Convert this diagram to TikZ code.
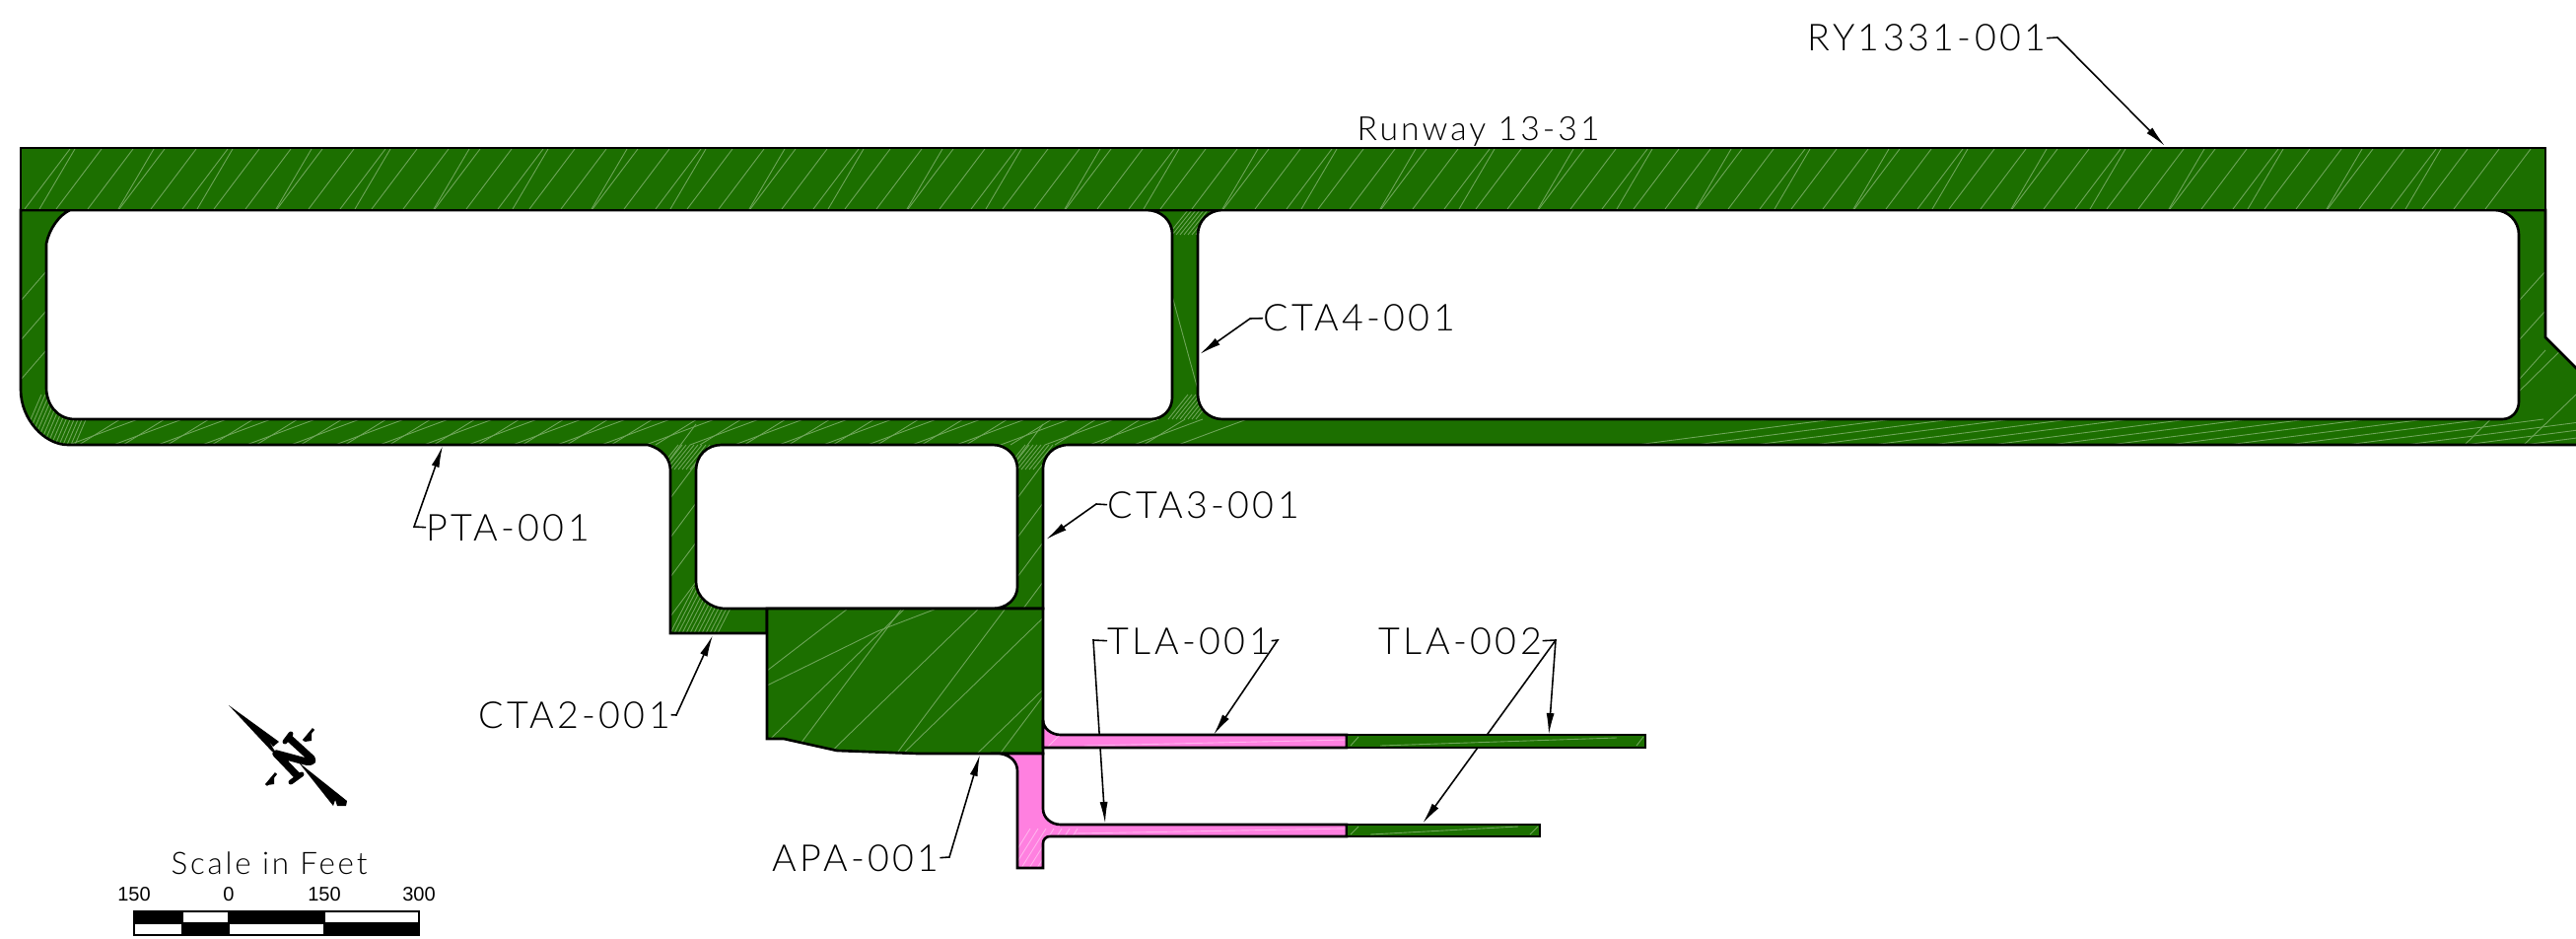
\documentclass[tikz,border=0pt]{standalone}
\usepackage{fontspec}
\setmainfont[LetterSpace=9]{Lato Light}
\newfontfamily\barfont{Liberation Sans}
\usetikzlibrary{arrows.meta}
\definecolor{pavegreen}{HTML}{1C6F00}
\definecolor{pavepink}{HTML}{FF80E0}
\definecolor{hatchgreen}{HTML}{6FA65A}
\definecolor{hatchpink}{HTML}{FFB4EE}

\begin{document}
\begin{tikzpicture}[x=0.01cm, y=-0.01cm,
    tag/.style={anchor=base west, inner sep=0pt, font=\fontsize{10.7}{12}\selectfont},
    leader/.style={line width=0.45pt, black},
    leaderarrow/.style={leader, -{Latex[length=0.22cm,width=0.08cm]}},
    pave/.style={draw=black, line width=0.75pt, line join=miter},
    hatch/.style={draw=hatchgreen, line width=0.25pt},
    barnum/.style={anchor=base, inner sep=0pt, font=\barfont\fontsize{5.7}{7}\selectfont}]
  \useasboundingbox (0,0) rectangle (2613,952);
  \clip (0,0) rectangle (2613,952);

  % labels
  \node [tag] (ry) at (1833,52) {RY1331-001};
  \node [tag, font=\fontsize{9.6}{12}\selectfont] (runway) at (1376,143) {Runway 13-31};
  \node [tag] (cta4) at (1281,336) {CTA4-001};
  \node [tag] (cta3) at (1123,525) {CTA3-001};
  \node [tag] (pta) at (432,548) {PTA-001};
  \node [tag] (cta2) at (485,738) {CTA2-001};
  \node [tag] (apa) at (783,883) {APA-001};
  \node [tag] (tla1) at (1123,663) {TLA-001};
  \node [tag] (tla2) at (1398,663) {TLA-002};

  % arrow ends, on the pavement edges
  \coordinate (ryend) at (2196,148);
  \coordinate (cta4end) at (1217,359);
  \coordinate (cta3end) at (1061,547);
  \coordinate (ptaend) at (449,452);
  \coordinate (cta2end) at (723,644);
  \coordinate (apaend) at (994,765);
  \coordinate (tla1enda) at (1121,835);
  \coordinate (tla1endb) at (1231,745);
  \coordinate (tla2enda) at (1571,745);
  \coordinate (tla2endb) at (1443,835);

  % leaders go first, the TLA ones pass behind the taxilane
  \draw [leaderarrow] (ry.east) -- (2087,38) -- (ryend);
  \draw [leaderarrow] (cta4.west) -- (1268,323) -- (cta4end);
  \draw [leaderarrow] (cta3.west) -- (1112,511) -- (cta3end);
  \draw [leaderarrow] (pta.west) -- (420,534) -- (ptaend);
  \draw [leaderarrow] (cta2.east) -- (686,725) -- (cta2end);
  \draw [leaderarrow] (apa.east) -- (963,869) -- (apaend);
  \draw [leaderarrow] (tla1.west) -- (1109,649) -- (tla1enda);
  \draw [leaderarrow] (tla1.east) -- (1296,649) -- (tla1endb);
  \draw [leaderarrow] (tla2.east) -- (1578,649) -- (tla2enda);
  \draw [leaderarrow] (1578,649) -- (tla2endb);

  % parallel taxiway and connectors, three holes
  \def\network{(21,213) -- (21,395) .. controls (21,425) and (45,451) .. (69,451)
      -- (657,451) .. controls (672,455) and (680,465) .. (680,477)
      -- (680,642) -- (778,642) -- (778,617) -- (1058,617) -- (1058,475)
      .. controls (1058,463) and (1068,451) .. (1084,451)
      -- (2630,451) -- (2630,390) -- (2582,342) -- (2582,213) -- cycle
    (71,213) .. controls (60,218) and (50,232) .. (47,247)
      -- (47,393) .. controls (47,410) and (58,425) .. (76,425)
      -- (1167,425) .. controls (1180,425) and (1189,415) .. (1189,403)
      -- (1189,237) .. controls (1189,224) and (1178,213) .. (1163,213) -- cycle
    (1240,213) .. controls (1226,213) and (1215,224) .. (1215,238)
      -- (1215,400) .. controls (1215,414) and (1226,425) .. (1240,425)
      -- (2538,425) .. controls (2548,425) and (2555,417) .. (2555,407)
      -- (2555,238) .. controls (2555,224) and (2544,213) .. (2530,213) -- cycle
    (732,451) .. controls (717,451) and (706,462) .. (706,477)
      -- (706,590) .. controls (706,605) and (720,617) .. (736,617)
      -- (1007,617) .. controls (1021,617) and (1032,607) .. (1032,595)
      -- (1032,475) .. controls (1032,462) and (1021,451) .. (1007,451) -- cycle}
  \fill [pavegreen, even odd rule] \network;
  \begin{scope}[even odd rule]
    \clip \network;
    \foreach \x in {80,125,...,1200}
      \draw [hatch] (\x,451) -- (\x+42,425);
    \foreach \x in {70,115,...,1200}
      \draw [hatch] (\x,451) -- (\x+70,425);
    \foreach \x in {1660,1720,...,2600}
      \draw [hatch] (\x,451) -- (\x+200,425);
    \foreach \y in {275,315,...,380}
      {\draw [hatch] (21,\y+30) -- (47,\y);
       \draw [hatch] (2555,\y+30) -- (2582,\y);}
    \foreach \y in {235,275,...,420}
      {\draw [hatch] (680,\y+230) -- (706,\y+195);
       \draw [hatch] (1032,\y+230) -- (1058,\y+195);}
    % denser at the curved corners
    \foreach \x in {20,24,...,76}
      \draw [hatch] (\x,451) -- (\x+22,400);
    \foreach \x in {680,684,...,730}
      \draw [hatch] (\x,642) -- (\x+24,595);
    \foreach \x in {668,672,...,700}
      \draw [hatch] (\x,476) -- (\x+20,451);
    \foreach \x in {1020,1024,...,1048}
      \draw [hatch] (\x,476) -- (\x+20,451);
    \foreach \x in {1185,1189,...,1215}
      {\draw [hatch] (\x,238) -- (\x+20,213);
       \draw [hatch] (\x,425) -- (\x+20,400);}
    \draw [hatch] (2500,451) -- (2613,340);
    \draw [hatch] (2560,451) -- (2613,400);
    \draw [hatch] (1189,300) -- (1215,395);
  \end{scope}
  \draw [pave, even odd rule] \network;

  % apron
  \def\apron{(778,617) -- (1058,617) -- (1058,764) -- (1015,764) -- (931,764)
      -- (849,761) -- (795,749) -- (778,749) -- cycle}
  \fill [pavegreen] \apron;
  \begin{scope}
    \clip \apron;
    \foreach \x in {760,835,...,1290}
      \draw [hatch] (\x,770) -- (\x+165,610);
    \foreach \x in {800,905,...,1120}
      \draw [hatch] (\x,770) -- (\x+120,610);
    \draw [hatch] (778,680) -- (860,617);
    \draw [hatch] (778,695) -- (890,640) -- (950,617);
  \end{scope}
  \draw [pave] \apron;

  % runway
  \fill [pavegreen] (21,150) rectangle (2582,213);
  \foreach \x in {25,57,...,2530}
    \draw [hatch] (\x,212) -- (\x+46,151);
  \foreach \x in {40,120,...,2500}
    \draw [hatch] (\x,212) -- (\x+36,151);
  \draw [pave] (21,150) rectangle (2582,213);

  % taxilanes
  \def\lowerlane{(1015,764) .. controls (1025,766) and (1032,772) .. (1032,782)
      -- (1032,880) -- (1058,880) -- (1058,855) .. controls (1058,851) and (1061,848) .. (1065,848)
      -- (1366,848) -- (1366,836) -- (1076,836) .. controls (1066,836) and (1058,829) .. (1058,820)
      -- (1058,764) -- cycle}
  \def\upperlane{(1058,730) .. controls (1058,738) and (1066,745) .. (1076,745)
      -- (1366,745) -- (1366,758) -- (1058,758) -- cycle}
  \fill [pavepink] \lowerlane;
  \fill [pavepink] \upperlane;
  \begin{scope}
    \clip \lowerlane;
    \foreach \x in {1020,1028,...,1070}
      \draw [hatchpink, line width=0.25pt] (\x,880) -- (\x+25,840);
    \draw [hatchpink, line width=0.25pt] (1090,845) -- (1366,840);
  \end{scope}
  \begin{scope}
    \clip \upperlane;
    \draw [hatchpink, line width=0.25pt] (1062,758) -- (1085,735);
    \draw [hatchpink, line width=0.25pt] (1100,756) -- (1366,750);
  \end{scope}
  \draw [pave] \lowerlane;
  \draw [pave] \upperlane;
  \draw [pave, fill=pavegreen] (1366,745) rectangle (1669,758);
  \draw [pave, fill=pavegreen] (1366,836) rectangle (1562,848);
  \draw [hatch] (1370,756) -- (1378,747);
  \draw [hatch] (1400,756) -- (1640,748);
  \draw [hatch] (1660,756) -- (1667,747);
  \draw [hatch] (1370,846) -- (1378,838);
  \draw [hatch] (1390,846) -- (1540,838);
  \draw [hatch] (1552,846) -- (1560,838);

  % north arrow
  \fill (232,715) -- (283,752) -- (277,757) -- (272,750) -- (279,762) -- (276,762) -- cycle;
  \fill (303,773) -- (352,812) -- (351,817) -- (342,817) -- (340,811) -- (338,817) -- cycle;
  \draw [line width=2.1pt, line join=round] (293,748) -- (316,769) .. controls (319,773) and (312,773) .. (306,771)
    -- (280,764) -- (302,787);
  \draw [line width=1.4pt, line cap=round] (289,752) -- (295,744);
  \draw [line width=1.4pt, line cap=round] (295,793) -- (306,785);
  \draw [line width=0.8pt] (308,751) -- (318,739);
  \draw [line width=0.8pt] (270,796) -- (280,784);
  \fill (309,752) -- (316,743) -- (316,751) -- cycle;
  \fill (271,796) -- (278,787) -- (278,795) -- cycle;

  % scale bar
  \node [anchor=base west, inner sep=0pt, font=\fontsize{8.9}{10}\selectfont] (scaletitle) at (173,886) {Scale in Feet};
  \node [barnum] (numa) at (136,913) {150};
  \node [barnum] (numb) at (232,913) {0};
  \node [barnum] (numc) at (329,913) {150};
  \node [barnum] (numd) at (425,913) {300};
  \foreach \xa/\xb/\ctop/\cbot in {136/185/black/white, 185/232/white/black, 232/329/black/white, 329/425/white/black}
    {\draw [black, line width=0.4pt, fill=\ctop] (\xa,924) rectangle (\xb,936);
     \draw [black, line width=0.4pt, fill=\cbot] (\xa,936) rectangle (\xb,948);}
\end{tikzpicture}
\end{document}
